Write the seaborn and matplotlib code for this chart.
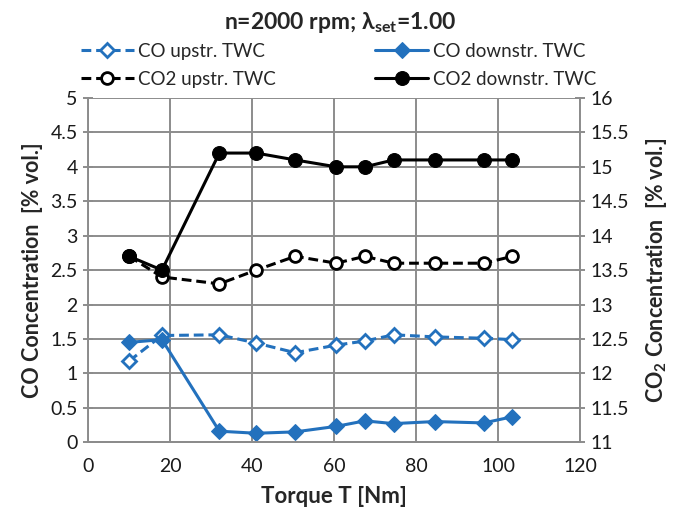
import matplotlib
matplotlib.use("Agg")
import matplotlib.pyplot as plt
import seaborn as sns
import pandas as pd

# Torque sweep at n=2000 rpm, lambda=1.00
torque = [10, 18, 32, 41, 50.5, 60.5, 67.5, 74.5, 84.5, 96.5, 103.5]
co_upstream = [1.18, 1.55, 1.56, 1.44, 1.30, 1.41, 1.47, 1.56, 1.53, 1.51, 1.49]
co_downstream = [1.45, 1.49, 0.16, 0.13, 0.15, 0.23, 0.31, 0.27, 0.30, 0.28, 0.37]
co2_upstream = [13.7, 13.4, 13.3, 13.5, 13.7, 13.6, 13.7, 13.6, 13.6, 13.6, 13.7]
co2_downstream = [13.7, 13.5, 15.2, 15.2, 15.1, 15.0, 15.0, 15.1, 15.1, 15.1, 15.1]

co_ticks = [0, 0.5, 1, 1.5, 2, 2.5, 3, 3.5, 4, 4.5, 5]
co2_ticks = [11, 11.5, 12, 12.5, 13, 13.5, 14, 14.5, 15, 15.5, 16]
torque_ticks = [0, 20, 40, 60, 80, 100, 120]

sns.set_theme(style="white")
FONT = "Lato"
plt.rcParams["font.family"] = [FONT, "DejaVu Sans"]
plt.rcParams["mathtext.fontset"] = "custom"
plt.rcParams["mathtext.rm"] = FONT
plt.rcParams["mathtext.bf"] = FONT + ":bold"

BLUE = "#2371BD"
GRID = "#8c8c8c"

df = pd.DataFrame({
    "torque": torque,
    "co_up": co_upstream,
    "co_down": co_downstream,
    "co2_up": co2_upstream,
    "co2_down": co2_downstream,
})

fig = plt.figure(figsize=(6.73, 5.13), dpi=100)
ax = fig.add_axes([0.131, 0.138, 0.731, 0.671])
ax2 = ax.twinx()

sns.lineplot(data=df, x="torque", y="co_up", ax=ax, color=BLUE, lw=2.2,
             linestyle=(0, (3.2, 1.6)), marker="D", markersize=7.5,
             markerfacecolor="white", markeredgecolor=BLUE, markeredgewidth=2,
             label="CO upstr. TWC")
sns.lineplot(data=df, x="torque", y="co_down", ax=ax, color=BLUE, lw=2.2,
             marker="D", markersize=8, markerfacecolor=BLUE,
             markeredgecolor=BLUE, label="CO downstr. TWC")
sns.lineplot(data=df, x="torque", y="co2_up", ax=ax2, color="black", lw=2.2,
             linestyle=(0, (3.2, 1.6)), marker="o", markersize=8.5,
             markerfacecolor="white", markeredgecolor="black", markeredgewidth=2,
             label="CO2 upstr. TWC")
sns.lineplot(data=df, x="torque", y="co2_down", ax=ax2, color="black", lw=2.2,
             marker="o", markersize=10, markerfacecolor="black",
             markeredgecolor="black", label="CO2 downstr. TWC")

ax.set_xlim(0, 120)
ax.set_ylim(0, 5)
ax2.set_ylim(11, 16)
ax.set_xticks(torque_ticks)
ax.set_yticks(co_ticks)
ax2.set_yticks(co2_ticks)
ax.set_xticklabels([f"{t:g}" for t in torque_ticks])
ax.set_yticklabels([f"{t:g}" for t in co_ticks])
ax2.set_yticklabels([f"{t:g}" for t in co2_ticks])

ax.grid(True, color=GRID, lw=1.4)
for a in (ax, ax2):
    a.spines["top"].set_visible(False)
    for side in ("left", "right", "bottom"):
        a.spines[side].set_color(GRID)
        a.spines[side].set_linewidth(1.4)
    a.tick_params(direction="inout", length=7, width=1.4, color=GRID,
                  labelsize=14, labelcolor="#1a1a1a", pad=4)
ax.tick_params(axis="x", pad=8)
ax2.spines["left"].set_visible(False)
ax.spines["right"].set_visible(False)

ax.set_xlabel("Torque T [Nm]", fontsize=16, fontweight="bold", labelpad=8)
ax.set_ylabel("CO Concentration  [% vol.]", fontsize=15.5, fontweight="bold",
              labelpad=5)
ax2.set_ylabel(r"CO$_\mathbf{2}$ Concentration  [% vol.]", fontsize=15.5,
               fontweight="bold", labelpad=11)

# Legend: two rows above the axes
h1, l1 = ax.get_legend_handles_labels()
h2, l2 = ax2.get_legend_handles_labels()
ax.get_legend().remove()
ax2.get_legend().remove()
handles = [h1[0], h2[0], h1[1], h2[1]]
labels = [l1[0], l2[0], l1[1], l2[1]]
fig.legend(handles, labels, ncol=2, loc="center", bbox_to_anchor=(0.503, 0.873),
           frameon=False, fontsize=13.5, handlelength=2.8, handletextpad=0.25,
           columnspacing=5.3, labelspacing=0.6, borderpad=0.2)

fig.text(0.506, 0.957, r"n=2000 rpm; λ$_\mathbf{set}$=1.00", ha="center",
         va="center", fontsize=16.5, fontweight="bold")

fig.savefig("out.png", dpi=100)
